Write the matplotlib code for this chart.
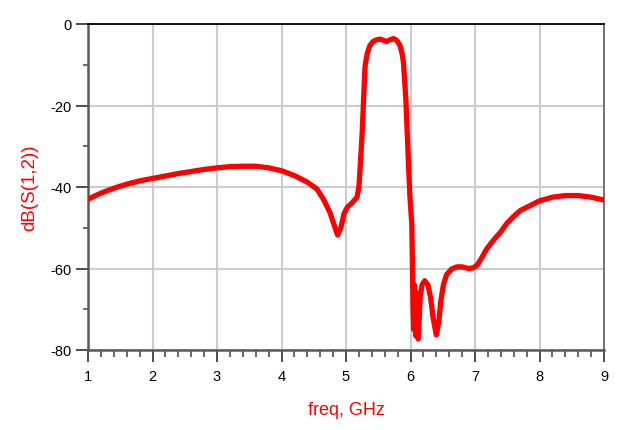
import numpy as np
import matplotlib
matplotlib.use("Agg")
import matplotlib.pyplot as plt
from matplotlib.ticker import MultipleLocator

plt.rcParams['font.family'] = ['Liberation Sans', 'DejaVu Sans']
plt.rcParams['axes.unicode_minus'] = False

# -- Data (freq in GHz, |S12| in dB)
freq_ghz = [
    1.00, 1.20, 1.40, 1.60, 1.80, 2.00, 2.20, 2.40, 2.60, 2.80,
    3.00, 3.20, 3.40, 3.60, 3.80, 4.00, 4.20, 4.40, 4.55, 4.65,
    4.75, 4.82, 4.87, 4.92, 4.97, 5.02, 5.10, 5.17, 5.20, 5.22,
    5.25, 5.27, 5.29, 5.30, 5.33, 5.37, 5.42, 5.47, 5.53, 5.58,
    5.63, 5.68, 5.73, 5.77, 5.80, 5.84, 5.87, 5.89, 5.91, 5.93,
    5.95, 5.97, 5.99, 6.02, 6.03, 6.04, 6.05, 6.06, 6.08, 6.10,
    6.12, 6.15, 6.18, 6.22, 6.27, 6.31, 6.35, 6.40, 6.44, 6.47,
    6.51, 6.56, 6.64, 6.72, 6.80, 6.90, 6.98, 7.04, 7.10, 7.18,
    7.30, 7.40, 7.50, 7.60, 7.70, 7.85, 8.00, 8.20, 8.40, 8.60,
    8.80, 9.00,
]
s12_db = [
    -43.0, -41.5, -40.3, -39.3, -38.5, -37.9, -37.3, -36.7, -36.2, -35.7,
    -35.3, -35.0, -34.9, -34.9, -35.3, -36.0, -37.2, -38.8, -40.5, -43.0,
    -46.2, -49.5, -51.8, -50.0, -46.5, -45.0, -43.8, -42.5, -40.0, -35.0,
    -27.0, -19.5, -12.0, -9.8, -7.2, -5.3, -4.3, -3.9, -3.7, -4.0,
    -4.3, -3.9, -3.6, -3.8, -4.3, -5.4, -7.3, -9.4, -14.0, -19.2,
    -27.0, -34.8, -42.0, -49.0, -59.0, -70.0, -75.0, -64.0, -76.5, -66.0,
    -77.3, -67.0, -64.0, -63.0, -64.0, -67.0, -72.0, -76.3, -73.0, -68.0,
    -64.0, -61.5, -60.1, -59.6, -59.6, -60.0, -59.8, -59.0, -57.5, -55.2,
    -52.8, -51.0, -48.8, -47.2, -45.8, -44.6, -43.4, -42.5, -42.1, -42.1,
    -42.5, -43.2,
]

x_ticks = [1, 2, 3, 4, 5, 6, 7, 8, 9]
y_ticks = [-80, -60, -40, -20, 0]

# -----------------------------------------------------------------------------

W, H = 628, 431
fig = plt.figure(figsize=(W / 100, H / 100), dpi=100)
ax = fig.add_axes([88 / W, 1 - 351 / H, (604 - 88) / W, (351 - 25) / H])

ax.plot(freq_ghz, s12_db, color='#ff0000', lw=3.8, solid_joinstyle='round',
        zorder=3)

ax.set_xlim(1, 9)
ax.set_ylim(-80, 0)
ax.set_xticks(x_ticks)
ax.set_yticks(y_ticks)
ax.xaxis.set_minor_locator(MultipleLocator(0.2))
ax.yaxis.set_minor_locator(MultipleLocator(10))

ax.grid(True, which='major', color='#cccccc', lw=1.5, zorder=0)

# Spines in the ADS look
for side in ('left', 'bottom'):
    ax.spines[side].set_color('#5a5a5a')
    ax.spines[side].set_linewidth(1.8)
ax.spines['right'].set_color('#6a6a6a')
ax.spines['right'].set_linewidth(1.3)
ax.spines['top'].set_color('#000000')
ax.spines['top'].set_linewidth(1.3)

ax.tick_params(axis='both', which='major', length=8.5, width=1.3,
               color='#404040', labelsize=10.5, labelcolor='black')
ax.tick_params(axis='x', which='major', pad=5)
ax.tick_params(axis='y', which='major', pad=3)
ax.tick_params(axis='x', which='minor', length=4.8, width=1.1,
               color='#404040')
ax.tick_params(axis='y', which='minor', length=3.6, width=1.1,
               color='#404040')

ax.set_xlabel('freq, GHz', color='#ff0000', fontsize=13, labelpad=13)
ax.set_ylabel('dB(S(1,2))', color='#ff0000', fontsize=13.5, labelpad=9)

fig.savefig('out.png', dpi=100)
plt.close(fig)
